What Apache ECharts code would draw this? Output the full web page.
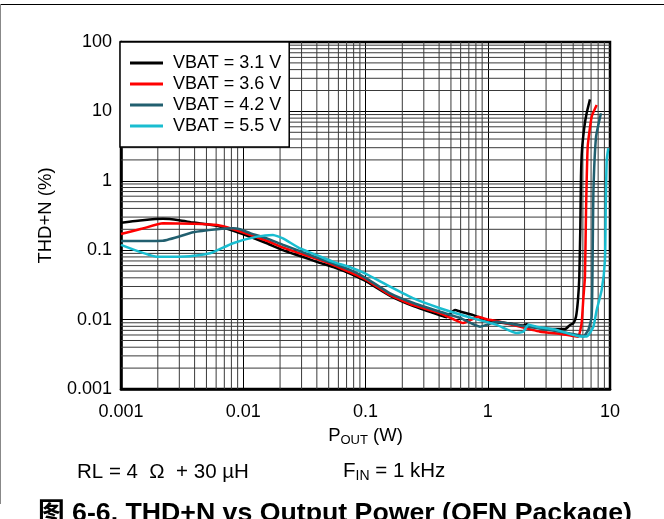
<!DOCTYPE html>
<html><head><meta charset="utf-8">
<script src="https://cdn.jsdelivr.net/npm/echarts@6/dist/echarts.min.js"></script>
<style>html,body{margin:0;padding:0;background:#fff}#c{width:664px;height:519px}</style>
</head><body><div id="c"></div>
<script>
// ---- data ----
const seriesNames = ['VBAT = 3.1 V', 'VBAT = 3.6 V', 'VBAT = 4.2 V', 'VBAT = 5.5 V'];

const pout31 = [0.001, 0.0015, 0.0022, 0.003, 0.0039, 0.0061, 0.0083, 0.0115, 0.0156, 0.021, 0.0291, 0.04, 0.0546, 0.0747, 0.1, 0.159, 0.25, 0.407, 0.46, 0.5, 0.54, 0.6, 0.76, 1.08, 1.5, 1.95, 2.08, 2.2, 3.23, 4.29, 4.71, 5.01, 5.27, 5.47, 5.61, 5.72, 5.79, 5.9, 6.17, 6.44, 6.86];
const thd31  = [0.249, 0.27, 0.283, 0.27, 0.25, 0.225, 0.19, 0.155, 0.126, 0.1, 0.0825, 0.068, 0.057, 0.046, 0.036, 0.022, 0.0155, 0.0115, 0.0108, 0.0125, 0.0137, 0.013, 0.0116, 0.0093, 0.0088, 0.0082, 0.0086, 0.0081, 0.0073, 0.0073, 0.00836, 0.00885, 0.011, 0.0192, 0.0415, 0.218, 1.15, 2.78, 6.0, 9.4, 14.9];

const pout36 = [0.001, 0.0015, 0.0022, 0.0039, 0.0061, 0.0083, 0.0115, 0.0156, 0.021, 0.0291, 0.04, 0.0546, 0.0747, 0.1, 0.159, 0.25, 0.407, 0.5, 0.63, 0.84, 0.98, 1.26, 2.68, 4.0, 5.0, 5.5, 5.86, 6.05, 6.24, 6.37, 6.57, 7.08, 7.78];
const thd36  = [0.171, 0.205, 0.244, 0.24, 0.23, 0.2, 0.165, 0.137, 0.11, 0.09, 0.075, 0.061, 0.048, 0.038, 0.0225, 0.016, 0.0123, 0.0105, 0.0089, 0.011, 0.0101, 0.0093, 0.0067, 0.0062, 0.0058, 0.00567, 0.0089, 0.02, 0.0415, 0.38, 3.1, 8.4, 12.4];

const pout42 = [0.001, 0.0015, 0.0022, 0.0039, 0.0061, 0.0083, 0.0094, 0.0115, 0.0156, 0.021, 0.0291, 0.04, 0.0546, 0.0747, 0.1, 0.159, 0.25, 0.407, 0.6, 0.865, 0.98, 1.18, 1.95, 3.23, 5.5, 6.05, 6.65, 7.08, 7.21, 7.31, 7.69, 8.44];
const thd42  = [0.136, 0.136, 0.137, 0.181, 0.2, 0.207, 0.2, 0.175, 0.148, 0.12, 0.097, 0.078, 0.064, 0.052, 0.04, 0.0239, 0.0172, 0.013, 0.0105, 0.0079, 0.0084, 0.0093, 0.0081, 0.0071, 0.006, 0.0057, 0.0071, 0.011, 0.072, 0.66, 4.32, 9.4];

const pout55 = [0.001, 0.00197, 0.00367, 0.00535, 0.00824, 0.013, 0.0175, 0.0211, 0.0291, 0.04, 0.0542, 0.0747, 0.1, 0.159, 0.25, 0.407, 0.762, 1.184, 1.725, 1.953, 2.15, 2.51, 3.66, 5.69, 6.44, 7.31, 7.78, 8.55, 9.1, 9.22, 9.4, 9.68];
const thd55  = [0.119, 0.0806, 0.082, 0.0902, 0.126, 0.157, 0.166, 0.148, 0.106, 0.085, 0.068, 0.057, 0.046, 0.0298, 0.02, 0.0146, 0.0104, 0.0084, 0.0064, 0.0067, 0.0084, 0.0079, 0.0071, 0.0057, 0.0057, 0.0079, 0.0137, 0.0267, 0.0722, 0.38, 2.0, 2.94];

const xTickValues = [0.001, 0.01, 0.1, 1, 10];
const xTickLabels = ['0.001', '0.01', '0.1', '1', '10'];
const yTickValues = [0.001, 0.01, 0.1, 1, 10, 100];
const yTickLabels = ['0.001', '0.01', '0.1', '1', '10', '100'];
const minorSteps = [2, 3, 4, 5, 6, 7, 8, 9];

// ---- build ----
const FONT = '"Liberation Sans", Arial, sans-serif';
const colors = ['#000000', '#ff0000', '#215f6f', '#19bdd0'];
const pouts = [pout31, pout36, pout42, pout55];
const thds = [thd31, thd36, thd42, thd55];
function zip(a, b) { return a.map((v, i) => [v, b[i]]); }

const gridData = [];
xTickValues.slice(0, -1).forEach(d => minorSteps.forEach(m => gridData.push([+(d * m).toPrecision(3), 1, 0])));
yTickValues.slice(0, -1).forEach(d => minorSteps.forEach(m => gridData.push([1, +(d * m).toPrecision(3), 1])));

function fmt(values, labels) {
  return function (v) {
    const i = values.findIndex(t => Math.abs(Math.log10(t) - Math.log10(v)) < 1e-6);
    return i >= 0 ? labels[i] : '';
  };
}

const xMin = xTickValues[0], xMax = xTickValues[xTickValues.length - 1];
const yMin = yTickValues[0], yMax = yTickValues[yTickValues.length - 1];

const series = [{
  type: 'custom',
  silent: true,
  z: 1,
  encode: { x: 0, y: 1 },
  data: gridData,
  renderItem: function (params, api) {
    const t = api.value(2);
    let p1, p2;
    if (t === 0) {
      p1 = api.coord([api.value(0), yMin]);
      p2 = api.coord([api.value(0), yMax]);
    } else {
      p1 = api.coord([xMin, api.value(1)]);
      p2 = api.coord([xMax, api.value(1)]);
    }
    return { type: 'line', shape: { x1: p1[0], y1: p1[1], x2: p2[0], y2: p2[1] },
      style: { stroke: '#3a3a3a', lineWidth: 1 } };
  }
}];
seriesNames.forEach((n, i) => series.push({
  name: n, type: 'line', z: 3, symbol: 'none', smooth: 0.15,
  lineStyle: { color: colors[i], width: 2.5 }, itemStyle: { color: colors[i] },
  data: zip(pouts[i], thds[i])
}));

const chart = echarts.init(document.getElementById('c'), null, { renderer: 'canvas' });
chart.setOption({
  animation: false,
  backgroundColor: '#ffffff',
  textStyle: { fontFamily: FONT },
  grid: { left: 121, right: 54, top: 42, bottom: 130, show: true, borderColor: '#000', borderWidth: 2.5, containLabel: false },
  legend: {
    data: seriesNames, orient: 'vertical', left: 120, top: 42,
    icon: 'rect',
    backgroundColor: '#fff', borderColor: '#000', borderWidth: 1.5,
    padding: [12, 8, 12, 10], itemWidth: 33, itemHeight: 3, itemGap: 3,
    textStyle: { fontFamily: FONT, fontSize: 18, color: '#000', lineHeight: 18, padding: [0, 0, 0, 5] }
  },
  xAxis: {
    type: 'log', logBase: 10, min: xMin, max: xMax,
    axisLine: { show: true, lineStyle: { color: '#000', width: 2.5 } },
    axisTick: { show: false }, minorTick: { show: false },
    splitLine: { show: true, lineStyle: { color: '#000', width: 1 } },
    axisLabel: { formatter: fmt(xTickValues, xTickLabels), color: '#000', fontSize: 18, fontFamily: FONT, margin: 14 },
    name: '{a|P}{b|OUT}{a| (W)}', nameLocation: 'middle', nameGap: 37,
    nameTextStyle: { rich: {
      a: { fontSize: 18.5, fontFamily: FONT, color: '#000', lineHeight: 20 },
      b: { fontSize: 13, fontFamily: FONT, color: '#000', lineHeight: 20, padding: [8, 0, 0, 0] }
    } }
  },
  yAxis: {
    type: 'log', logBase: 10, min: yMin, max: yMax,
    axisLine: { show: true, lineStyle: { color: '#000', width: 2.5 } },
    axisTick: { show: false }, minorTick: { show: false },
    splitLine: { show: true, lineStyle: { color: '#000', width: 1 } },
    axisLabel: { formatter: fmt(yTickValues, yTickLabels), color: '#000', fontSize: 18, fontFamily: FONT, margin: 9 },
    name: 'THD+N (%)', nameLocation: 'middle', nameGap: 66, nameRotate: 90,
    nameTextStyle: { fontSize: 18.5, fontFamily: FONT, color: '#000' }
  },
  graphic: [
    { type: 'line', shape: { x1: 0, y1: 4.5, x2: 664, y2: 4.5 }, style: { stroke: '#000', lineWidth: 1 } },
    { type: 'line', shape: { x1: 0.5, y1: 4, x2: 0.5, y2: 504 }, style: { stroke: '#888', lineWidth: 1 } },
    { type: 'text', left: 77, top: 462, style: {
      text: 'RL = 4  Ω  + 30 µH', font: '20.5px ' + FONT, fill: '#000' } },
    { type: 'text', left: 343, top: 460, style: {
      text: '{a|F}{b|IN}{a| = 1 kHz}', fill: '#000',
      rich: { a: { fontSize: 20.5, fontFamily: FONT, lineHeight: 24 }, b: { fontSize: 14, fontFamily: FONT, lineHeight: 24, padding: [9, 0, 0, 0] } } } },
    { type: 'text', left: 38, top: 500, style: {
      text: '图 6-6. THD+N vs Output Power (QFN Package)', font: 'bold 26.7px "Liberation Sans", "Noto Sans CJK SC", Arial, sans-serif', fill: '#000' } }
  ],
  series: series
});
</script></body></html>
